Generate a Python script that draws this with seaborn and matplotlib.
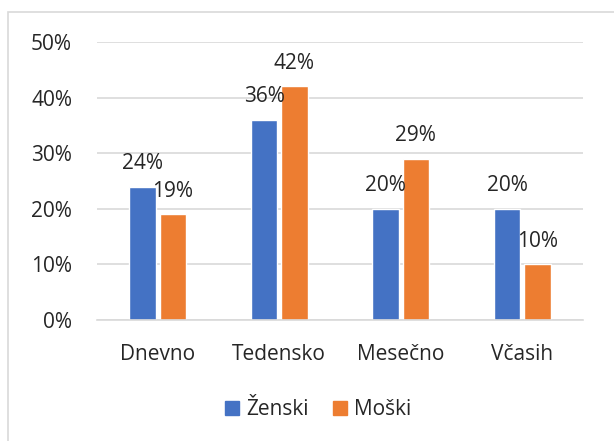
import seaborn as sns
import pandas as pd
import matplotlib.pyplot as plt
from matplotlib.patches import Rectangle

categories = ['Dnevno', 'Tedensko', 'Mesečno', 'Včasih']
zenski = [0.24, 0.36, 0.20, 0.20]
moski = [0.19, 0.42, 0.29, 0.10]
series = ['Ženski', 'Moški']
colors = ['#4472C4', '#ED7D31']
yticks = [0, 0.1, 0.2, 0.3, 0.4, 0.5]

df = pd.DataFrame({
    'kategorija': categories * 2,
    'spol': [series[0]] * 4 + [series[1]] * 4,
    'delez': zenski + moski,
})

sns.set_style('white')
plt.rcParams['font.family'] = ['Open Sans', 'DejaVu Sans']
fs = 15

fig = plt.figure(figsize=(6.14, 4.41), dpi=100)
# okvir grafikona (kot v Excelu)
fig.patches.append(Rectangle((8 / 614, -0.05), 1.2, (441 - 12) / 441 + 0.05,
                             transform=fig.transFigure, fill=False,
                             edgecolor='#D9D9D9', linewidth=1.2))

ax = fig.add_axes([0.158, 0.2744, 0.7915, 0.6304])
sns.barplot(data=df, x='kategorija', y='delez', hue='spol', palette=colors,
            width=0.5, gap=0.12, ax=ax, saturation=1)

ax.set_ylim(0, 0.5)
ax.set_xlim(-0.5, 3.5)
ax.set_yticks(yticks)
ax.set_yticklabels([f'{int(round(t * 100))}%' for t in yticks], fontsize=fs)
ax.tick_params(axis='x', labelsize=fs, pad=17, length=0)
ax.tick_params(axis='y', pad=18, length=0)
ax.set_xlabel('')
ax.set_ylabel('')
ax.grid(axis='y', color='#D9D9D9', linewidth=1.2)
ax.set_axisbelow(True)
for s in ['top', 'right', 'left']:
    ax.spines[s].set_visible(False)
ax.spines['bottom'].set_color('#D9D9D9')
ax.spines['bottom'].set_linewidth(1.2)

for cont in ax.containers:
    ax.bar_label(cont, labels=[f'{int(round(v * 100))}%' for v in cont.datavalues],
                 fontsize=fs, padding=9)

ax.legend(handles=[Rectangle((0, 0), 1, 1, color=c) for c in colors], labels=series,
          loc='center', bbox_to_anchor=(0.455, -0.322), ncol=2, frameon=False,
          fontsize=fs, handlelength=0.67, handleheight=0.67, handletextpad=0.34,
          columnspacing=1.15)

fig.savefig('out.png', dpi=100)
